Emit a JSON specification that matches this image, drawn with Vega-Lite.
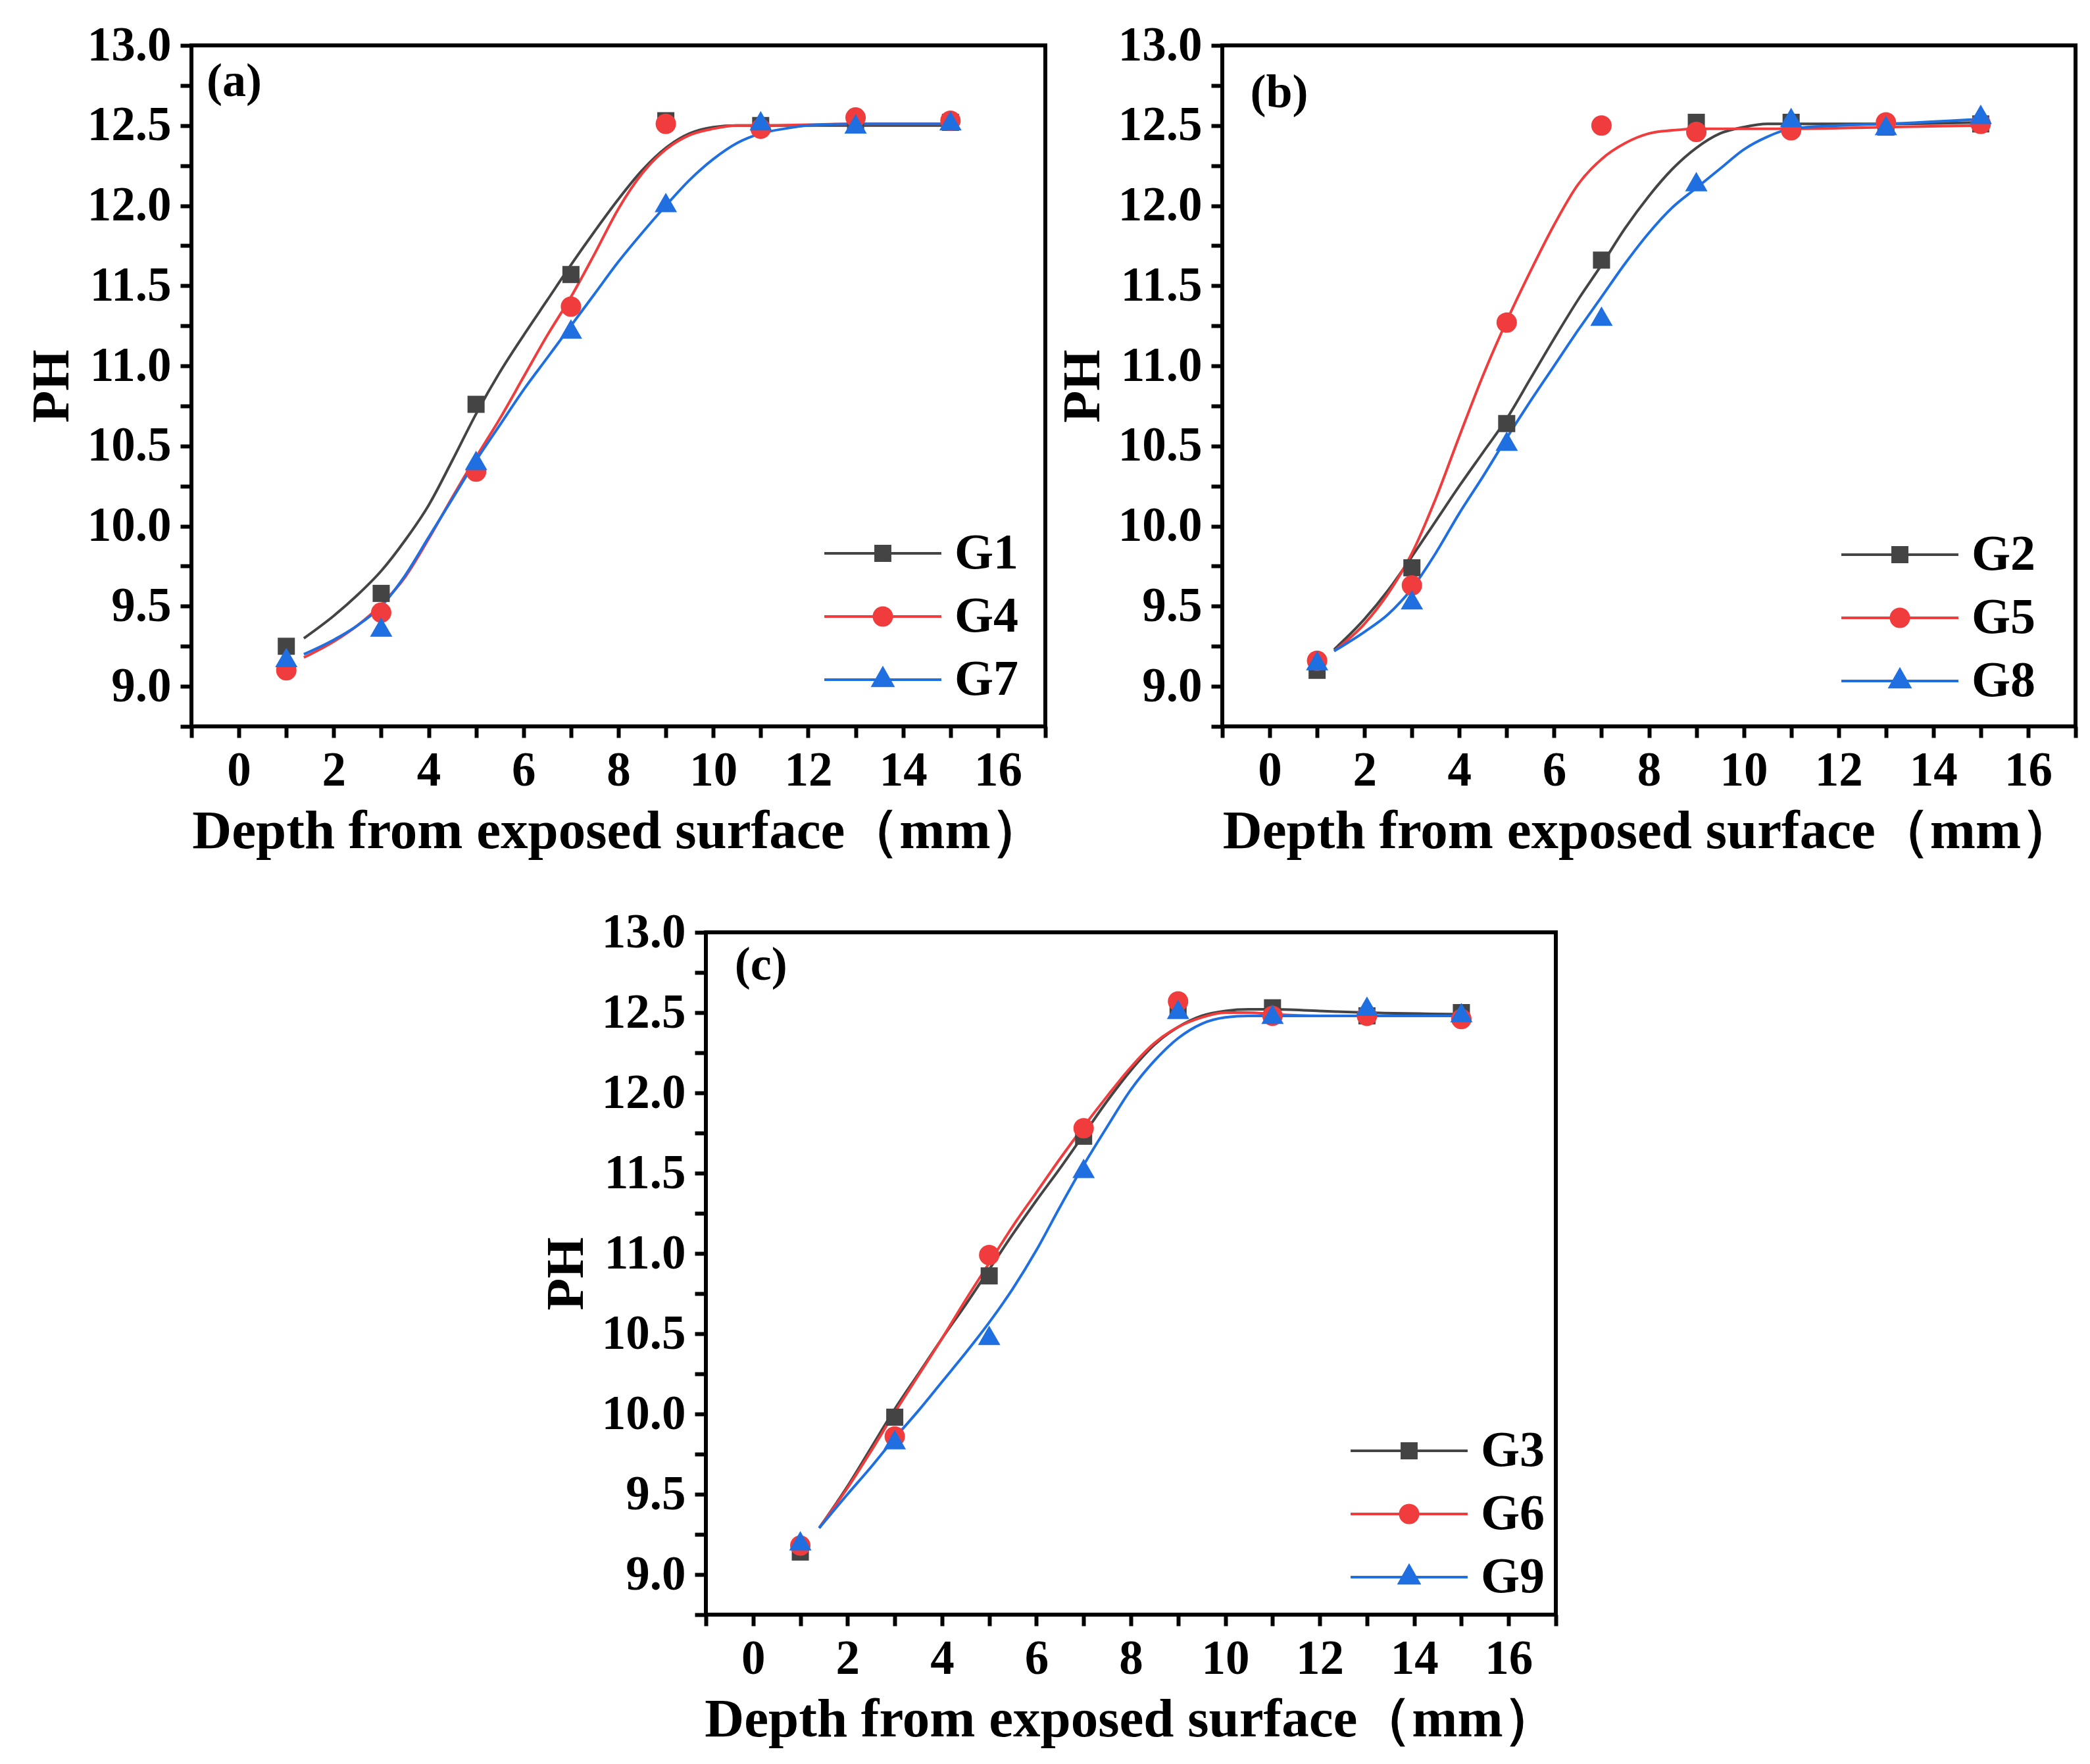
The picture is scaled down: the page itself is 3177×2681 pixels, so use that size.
{
  "$schema": "https://vega.github.io/schema/vega-lite/v6.json",
  "background": "white",
  "padding": {"left": 36, "top": 30, "right": 0, "bottom": 0},
  "config": {
    "view": {"stroke": null},
    "font": "Liberation Serif",
    "axis": {
      "labelFont": "Liberation Serif", "labelFontWeight": "bold", "labelFontSize": 73, "labelColor": "black",
      "titleFont": "Liberation Serif", "titleFontWeight": "bold", "titleFontSize": 80, "titleColor": "black",
      "grid": false, "domain": false, "tickColor": "black", "tickWidth": 6, "tickSize": 17,
      "labelPadding": 14, "titlePadding": 14, "labelOverlap": false, "labelFlush": false
    },
    "axisX": {"titleFontSize": 83},
    "axisY": {"titlePadding": 12},
    "legend": {"title": null, "padding": 0, "symbolSize": 900, "symbolStrokeWidth": 4, "labelOffset": 71, "rowPadding": 20,
      "labelFont": "Liberation Serif", "labelFontWeight": "bold", "labelFontSize": 76, "labelColor": "black"}
  },
  "datasets": {
    "a_pts": [
      {"s": "G1", "x": 1, "y": 9.25}, {"s": "G1", "x": 3, "y": 9.58}, {"s": "G1", "x": 5, "y": 10.76}, {"s": "G1", "x": 7, "y": 11.57},
      {"s": "G1", "x": 9, "y": 12.53}, {"s": "G1", "x": 11, "y": 12.5}, {"s": "G1", "x": 13, "y": 12.52}, {"s": "G1", "x": 15, "y": 12.52},
      {"s": "G4", "x": 1, "y": 9.1}, {"s": "G4", "x": 3, "y": 9.46}, {"s": "G4", "x": 5, "y": 10.34}, {"s": "G4", "x": 7, "y": 11.37},
      {"s": "G4", "x": 9, "y": 12.51}, {"s": "G4", "x": 11, "y": 12.48}, {"s": "G4", "x": 13, "y": 12.55}, {"s": "G4", "x": 15, "y": 12.53},
      {"s": "G7", "x": 1, "y": 9.18}, {"s": "G7", "x": 3, "y": 9.37}, {"s": "G7", "x": 5, "y": 10.41}, {"s": "G7", "x": 7, "y": 11.23},
      {"s": "G7", "x": 9, "y": 12.02}, {"s": "G7", "x": 11, "y": 12.53}, {"s": "G7", "x": 13, "y": 12.51}, {"s": "G7", "x": 15, "y": 12.53}
    ],
    "a_fit": [
      {"s": "G1", "x": 1.37, "y": 9.3}, {"s": "G1", "x": 2, "y": 9.44}, {"s": "G1", "x": 2.5, "y": 9.57}, {"s": "G1", "x": 3, "y": 9.72},
      {"s": "G1", "x": 3.5, "y": 9.91}, {"s": "G1", "x": 4, "y": 10.13}, {"s": "G1", "x": 4.5, "y": 10.41}, {"s": "G1", "x": 5, "y": 10.7},
      {"s": "G1", "x": 5.5, "y": 10.96}, {"s": "G1", "x": 6, "y": 11.19}, {"s": "G1", "x": 6.5, "y": 11.41}, {"s": "G1", "x": 7, "y": 11.63},
      {"s": "G1", "x": 7.5, "y": 11.84}, {"s": "G1", "x": 8, "y": 12.04}, {"s": "G1", "x": 8.5, "y": 12.22}, {"s": "G1", "x": 9, "y": 12.36},
      {"s": "G1", "x": 9.5, "y": 12.45}, {"s": "G1", "x": 10, "y": 12.49}, {"s": "G1", "x": 10.5, "y": 12.5}, {"s": "G1", "x": 11, "y": 12.5},
      {"s": "G1", "x": 13, "y": 12.5}, {"s": "G1", "x": 15, "y": 12.5},
      {"s": "G4", "x": 1.37, "y": 9.18}, {"s": "G4", "x": 2, "y": 9.28}, {"s": "G4", "x": 2.5, "y": 9.38}, {"s": "G4", "x": 3, "y": 9.51},
      {"s": "G4", "x": 3.5, "y": 9.68}, {"s": "G4", "x": 4, "y": 9.92}, {"s": "G4", "x": 4.5, "y": 10.18}, {"s": "G4", "x": 5, "y": 10.43},
      {"s": "G4", "x": 5.5, "y": 10.67}, {"s": "G4", "x": 6, "y": 10.93}, {"s": "G4", "x": 6.5, "y": 11.19}, {"s": "G4", "x": 7, "y": 11.43},
      {"s": "G4", "x": 7.5, "y": 11.7}, {"s": "G4", "x": 8, "y": 11.98}, {"s": "G4", "x": 8.5, "y": 12.2}, {"s": "G4", "x": 9, "y": 12.35},
      {"s": "G4", "x": 9.5, "y": 12.44}, {"s": "G4", "x": 10, "y": 12.48}, {"s": "G4", "x": 10.5, "y": 12.5}, {"s": "G4", "x": 11, "y": 12.5},
      {"s": "G4", "x": 13, "y": 12.51}, {"s": "G4", "x": 15, "y": 12.51},
      {"s": "G7", "x": 1.37, "y": 9.2}, {"s": "G7", "x": 2, "y": 9.29}, {"s": "G7", "x": 2.5, "y": 9.38}, {"s": "G7", "x": 3, "y": 9.5},
      {"s": "G7", "x": 3.5, "y": 9.69}, {"s": "G7", "x": 4, "y": 9.93}, {"s": "G7", "x": 4.5, "y": 10.17}, {"s": "G7", "x": 5, "y": 10.41},
      {"s": "G7", "x": 5.5, "y": 10.63}, {"s": "G7", "x": 6, "y": 10.85}, {"s": "G7", "x": 6.5, "y": 11.05}, {"s": "G7", "x": 7, "y": 11.25},
      {"s": "G7", "x": 7.5, "y": 11.45}, {"s": "G7", "x": 8, "y": 11.65}, {"s": "G7", "x": 8.5, "y": 11.83}, {"s": "G7", "x": 9, "y": 12.0},
      {"s": "G7", "x": 9.5, "y": 12.16}, {"s": "G7", "x": 10, "y": 12.29}, {"s": "G7", "x": 10.5, "y": 12.39}, {"s": "G7", "x": 11, "y": 12.45},
      {"s": "G7", "x": 11.5, "y": 12.48}, {"s": "G7", "x": 12, "y": 12.5}, {"s": "G7", "x": 13, "y": 12.51}, {"s": "G7", "x": 15, "y": 12.51}
    ],
    "b_pts": [
      {"s": "G2", "x": 1, "y": 9.1}, {"s": "G2", "x": 3, "y": 9.74}, {"s": "G2", "x": 5, "y": 10.64}, {"s": "G2", "x": 7, "y": 11.66},
      {"s": "G2", "x": 9, "y": 12.52}, {"s": "G2", "x": 11, "y": 12.52}, {"s": "G2", "x": 13, "y": 12.49}, {"s": "G2", "x": 15, "y": 12.51},
      {"s": "G5", "x": 1, "y": 9.16}, {"s": "G5", "x": 3, "y": 9.63}, {"s": "G5", "x": 5, "y": 11.27}, {"s": "G5", "x": 7, "y": 12.5},
      {"s": "G5", "x": 9, "y": 12.46}, {"s": "G5", "x": 11, "y": 12.47}, {"s": "G5", "x": 13, "y": 12.52}, {"s": "G5", "x": 15, "y": 12.51},
      {"s": "G8", "x": 1, "y": 9.16}, {"s": "G8", "x": 3, "y": 9.54}, {"s": "G8", "x": 5, "y": 10.53}, {"s": "G8", "x": 7, "y": 11.31},
      {"s": "G8", "x": 9, "y": 12.15}, {"s": "G8", "x": 11, "y": 12.55}, {"s": "G8", "x": 13, "y": 12.5}, {"s": "G8", "x": 15, "y": 12.57}
    ],
    "b_fit": [
      {"s": "G2", "x": 1.36, "y": 9.23}, {"s": "G2", "x": 2, "y": 9.42}, {"s": "G2", "x": 2.5, "y": 9.6}, {"s": "G2", "x": 3, "y": 9.81},
      {"s": "G2", "x": 3.5, "y": 10.03}, {"s": "G2", "x": 4, "y": 10.25}, {"s": "G2", "x": 4.5, "y": 10.46}, {"s": "G2", "x": 5, "y": 10.67},
      {"s": "G2", "x": 5.5, "y": 10.92}, {"s": "G2", "x": 6, "y": 11.17}, {"s": "G2", "x": 6.5, "y": 11.41}, {"s": "G2", "x": 7, "y": 11.63},
      {"s": "G2", "x": 7.5, "y": 11.86}, {"s": "G2", "x": 8, "y": 12.06}, {"s": "G2", "x": 8.5, "y": 12.23}, {"s": "G2", "x": 9, "y": 12.36},
      {"s": "G2", "x": 9.5, "y": 12.45}, {"s": "G2", "x": 10, "y": 12.49}, {"s": "G2", "x": 10.5, "y": 12.51}, {"s": "G2", "x": 11, "y": 12.51},
      {"s": "G2", "x": 13, "y": 12.51}, {"s": "G2", "x": 15, "y": 12.52},
      {"s": "G5", "x": 1.36, "y": 9.22}, {"s": "G5", "x": 2, "y": 9.39}, {"s": "G5", "x": 2.5, "y": 9.58}, {"s": "G5", "x": 3, "y": 9.83},
      {"s": "G5", "x": 3.5, "y": 10.17}, {"s": "G5", "x": 4, "y": 10.56}, {"s": "G5", "x": 4.5, "y": 10.94}, {"s": "G5", "x": 5, "y": 11.28},
      {"s": "G5", "x": 5.5, "y": 11.59}, {"s": "G5", "x": 6, "y": 11.88}, {"s": "G5", "x": 6.5, "y": 12.13}, {"s": "G5", "x": 7, "y": 12.29},
      {"s": "G5", "x": 7.5, "y": 12.39}, {"s": "G5", "x": 8, "y": 12.45}, {"s": "G5", "x": 8.5, "y": 12.47}, {"s": "G5", "x": 9, "y": 12.48},
      {"s": "G5", "x": 11, "y": 12.48}, {"s": "G5", "x": 13, "y": 12.49}, {"s": "G5", "x": 15, "y": 12.5},
      {"s": "G8", "x": 1.36, "y": 9.22}, {"s": "G8", "x": 2, "y": 9.34}, {"s": "G8", "x": 2.5, "y": 9.45}, {"s": "G8", "x": 3, "y": 9.61},
      {"s": "G8", "x": 3.5, "y": 9.83}, {"s": "G8", "x": 4, "y": 10.08}, {"s": "G8", "x": 4.5, "y": 10.31}, {"s": "G8", "x": 5, "y": 10.55},
      {"s": "G8", "x": 5.5, "y": 10.78}, {"s": "G8", "x": 6, "y": 11.0}, {"s": "G8", "x": 6.5, "y": 11.22}, {"s": "G8", "x": 7, "y": 11.43},
      {"s": "G8", "x": 7.5, "y": 11.64}, {"s": "G8", "x": 8, "y": 11.83}, {"s": "G8", "x": 8.5, "y": 11.99}, {"s": "G8", "x": 9, "y": 12.11},
      {"s": "G8", "x": 9.5, "y": 12.23}, {"s": "G8", "x": 10, "y": 12.35}, {"s": "G8", "x": 10.5, "y": 12.43}, {"s": "G8", "x": 11, "y": 12.48},
      {"s": "G8", "x": 12, "y": 12.5}, {"s": "G8", "x": 13, "y": 12.51}, {"s": "G8", "x": 15, "y": 12.54}
    ],
    "c_pts": [
      {"s": "G3", "x": 1, "y": 9.14}, {"s": "G3", "x": 3, "y": 9.98}, {"s": "G3", "x": 5, "y": 10.86}, {"s": "G3", "x": 7, "y": 11.73},
      {"s": "G3", "x": 9, "y": 12.53}, {"s": "G3", "x": 11, "y": 12.53}, {"s": "G3", "x": 13, "y": 12.48}, {"s": "G3", "x": 15, "y": 12.5},
      {"s": "G6", "x": 1, "y": 9.18}, {"s": "G6", "x": 3, "y": 9.86}, {"s": "G6", "x": 5, "y": 10.99}, {"s": "G6", "x": 7, "y": 11.78},
      {"s": "G6", "x": 9, "y": 12.57}, {"s": "G6", "x": 11, "y": 12.48}, {"s": "G6", "x": 13, "y": 12.48}, {"s": "G6", "x": 15, "y": 12.46},
      {"s": "G9", "x": 1, "y": 9.21}, {"s": "G9", "x": 3, "y": 9.84}, {"s": "G9", "x": 5, "y": 10.49}, {"s": "G9", "x": 7, "y": 11.53},
      {"s": "G9", "x": 9, "y": 12.52}, {"s": "G9", "x": 11, "y": 12.49}, {"s": "G9", "x": 13, "y": 12.54}, {"s": "G9", "x": 15, "y": 12.5}
    ],
    "c_fit": [
      {"s": "G3", "x": 1.4, "y": 9.29}, {"s": "G3", "x": 2, "y": 9.55}, {"s": "G3", "x": 2.5, "y": 9.79}, {"s": "G3", "x": 3, "y": 10.03},
      {"s": "G3", "x": 3.5, "y": 10.25}, {"s": "G3", "x": 4, "y": 10.47}, {"s": "G3", "x": 4.5, "y": 10.68}, {"s": "G3", "x": 5, "y": 10.9},
      {"s": "G3", "x": 5.5, "y": 11.12}, {"s": "G3", "x": 6, "y": 11.33}, {"s": "G3", "x": 6.5, "y": 11.53}, {"s": "G3", "x": 7, "y": 11.74},
      {"s": "G3", "x": 7.5, "y": 11.95}, {"s": "G3", "x": 8, "y": 12.14}, {"s": "G3", "x": 8.5, "y": 12.3}, {"s": "G3", "x": 9, "y": 12.41},
      {"s": "G3", "x": 9.5, "y": 12.48}, {"s": "G3", "x": 10, "y": 12.51}, {"s": "G3", "x": 10.5, "y": 12.52}, {"s": "G3", "x": 11, "y": 12.52},
      {"s": "G3", "x": 12, "y": 12.51}, {"s": "G3", "x": 13, "y": 12.5}, {"s": "G3", "x": 15, "y": 12.49},
      {"s": "G6", "x": 1.4, "y": 9.29}, {"s": "G6", "x": 2, "y": 9.54}, {"s": "G6", "x": 2.5, "y": 9.77}, {"s": "G6", "x": 3, "y": 10.01},
      {"s": "G6", "x": 3.5, "y": 10.24}, {"s": "G6", "x": 4, "y": 10.47}, {"s": "G6", "x": 4.5, "y": 10.71}, {"s": "G6", "x": 5, "y": 10.94},
      {"s": "G6", "x": 5.5, "y": 11.17}, {"s": "G6", "x": 6, "y": 11.38}, {"s": "G6", "x": 6.5, "y": 11.59}, {"s": "G6", "x": 7, "y": 11.79},
      {"s": "G6", "x": 7.5, "y": 11.98}, {"s": "G6", "x": 8, "y": 12.16}, {"s": "G6", "x": 8.5, "y": 12.31}, {"s": "G6", "x": 9, "y": 12.41},
      {"s": "G6", "x": 9.5, "y": 12.47}, {"s": "G6", "x": 10, "y": 12.5}, {"s": "G6", "x": 10.5, "y": 12.5}, {"s": "G6", "x": 11, "y": 12.49},
      {"s": "G6", "x": 12, "y": 12.48}, {"s": "G6", "x": 15, "y": 12.48},
      {"s": "G9", "x": 1.4, "y": 9.29}, {"s": "G9", "x": 2, "y": 9.5}, {"s": "G9", "x": 2.5, "y": 9.67}, {"s": "G9", "x": 3, "y": 9.85},
      {"s": "G9", "x": 3.5, "y": 10.02}, {"s": "G9", "x": 4, "y": 10.2}, {"s": "G9", "x": 4.5, "y": 10.38}, {"s": "G9", "x": 5, "y": 10.57},
      {"s": "G9", "x": 5.5, "y": 10.78}, {"s": "G9", "x": 6, "y": 11.02}, {"s": "G9", "x": 6.5, "y": 11.29}, {"s": "G9", "x": 7, "y": 11.55},
      {"s": "G9", "x": 7.5, "y": 11.79}, {"s": "G9", "x": 8, "y": 12.02}, {"s": "G9", "x": 8.5, "y": 12.2}, {"s": "G9", "x": 9, "y": 12.34},
      {"s": "G9", "x": 9.5, "y": 12.43}, {"s": "G9", "x": 10, "y": 12.47}, {"s": "G9", "x": 10.5, "y": 12.48}, {"s": "G9", "x": 11, "y": 12.48},
      {"s": "G9", "x": 15, "y": 12.48}
    ]
  },
  "spacing": 70,
  "resolve": {
    "scale": {"color": "independent", "stroke": "independent", "shape": "independent"},
    "legend": {"color": "independent", "stroke": "independent", "shape": "independent"}
  },
  "vconcat": [
    {
      "resolve": {
        "scale": {"color": "independent", "stroke": "independent", "shape": "independent"},
        "legend": {"color": "independent", "stroke": "independent", "shape": "independent"}
      },
      "hconcat": [
        {
          "width": 1298, "height": 1035,
          "view": {"stroke": "black", "strokeWidth": 6},
          "resolve": {"legend": {"color": "independent", "stroke": "independent", "shape": "independent"}},
          "encoding": {
            "x": {"field": "x", "type": "quantitative", "scale": {"domain": [-1, 17], "nice": false},
              "axis": {"title": "Depth from exposed surface（mm）", "values": [-1, 0, 1, 2, 3, 4, 5, 6, 7, 8, 9, 10, 11, 12, 13, 14, 15, 16, 17],
                "labelExpr": "datum.value % 2 === 0 ? datum.label : ''",
                "encode": {"ticks": {"update": {"y2": {"signal": "datum.value % 2 === 0 ? 17 : 9"}}}}}},
            "y": {"field": "y", "type": "quantitative", "scale": {"domain": [8.75, 13], "nice": false, "zero": false},
              "axis": {"title": "PH", "values": [8.75, 9, 9.25, 9.5, 9.75, 10, 10.25, 10.5, 10.75, 11, 11.25, 11.5, 11.75, 12, 12.25, 12.5, 12.75, 13],
                "labelExpr": "(datum.value * 2) % 1 === 0 ? format(datum.value, '.1f') : ''",
                "encode": {"ticks": {"update": {"x2": {"signal": "(datum.value * 2) % 1 === 0 ? -17 : -9"}}}}}}
          },
          "layer": [
            {
              "data": {"name": "a_fit"},
              "mark": {"type": "line", "interpolate": "monotone", "strokeWidth": 4},
              "encoding": {"color": {"field": "s", "type": "nominal", "scale": {"domain": ["G1", "G4", "G7"], "range": ["#444444", "#f03c3c", "#1f6fe0"]}, "legend": null}}
            },
            {
              "data": {"name": "a_pts"}, "transform": [{"filter": "datum.s === 'G1'"}],
              "mark": {"type": "point", "filled": true, "opacity": 1, "shape": "square", "size": 676},
              "encoding": {"color": {"field": "s", "type": "nominal", "legend": null}}
            },
            {
              "data": {"name": "a_pts"}, "transform": [{"filter": "datum.s === 'G4'"}],
              "mark": {"type": "point", "filled": true, "opacity": 1, "shape": "circle", "size": 961},
              "encoding": {"color": {"field": "s", "type": "nominal", "legend": null}}
            },
            {
              "data": {"name": "a_pts"}, "transform": [{"filter": "datum.s === 'G7'"}],
              "mark": {"type": "point", "filled": true, "opacity": 1, "shape": "triangle-up", "size": 1156},
              "encoding": {"color": {"field": "s", "type": "nominal", "legend": null}}
            },
            {
              "data": {"name": "a_pts"}, "transform": [{"filter": "false"}],
              "mark": {"type": "point", "filled": true, "opacity": 1},
              "encoding": {
                "color": {"field": "s", "type": "nominal", "scale": {"domain": ["G1", "G4", "G7"], "range": ["#444444", "#f03c3c", "#1f6fe0"]},
                  "legend": {"orient": "none", "legendX": 1013, "legendY": 734, "labelFontWeight": "bold", "encode": {"labels": {"update": {"fontWeight": {"value": "bold"}}}}}},
                "stroke": {"field": "s", "type": "nominal", "scale": {"domain": ["G1", "G4", "G7"], "range": ["#444444", "#f03c3c", "#1f6fe0"]},
                  "legend": {"orient": "none", "legendX": 1013, "legendY": 734, "labelFontWeight": "bold", "encode": {"labels": {"update": {"fontWeight": {"value": "bold"}}}}}},
                "shape": {"field": "s", "type": "nominal", "scale": {"domain": ["G1", "G4", "G7"], "range": ["M-5.93,0H5.93M-0.73,-0.73H0.73V0.73H-0.73Z", "M-5.93,0H5.93M-0.9,0A0.9,0.9,0,1,1,0.9,0A0.9,0.9,0,1,1,-0.9,0Z", "M-5.93,0H5.93M0,-1.15L1,0.62H-1Z"]},
                  "legend": {"orient": "none", "legendX": 1013, "legendY": 734, "labelFontWeight": "bold", "encode": {"labels": {"update": {"fontWeight": {"value": "bold"}}}}}}
              }
            },
            {
              "data": {"values": [{"x": -0.68, "y": 12.685, "t": "(a)"}]},
              "mark": {"type": "text", "align": "left", "baseline": "alphabetic", "font": "Liberation Serif", "fontWeight": "bold", "fontSize": 72, "color": "black"},
              "encoding": {"text": {"field": "t"}}
            }
          ]
        },
        {
          "width": 1297, "height": 1035,
          "view": {"stroke": "black", "strokeWidth": 6},
          "resolve": {"legend": {"color": "independent", "stroke": "independent", "shape": "independent"}},
          "encoding": {
            "x": {"field": "x", "type": "quantitative", "scale": {"domain": [-1, 17], "nice": false},
              "axis": {"title": "Depth from exposed surface（mm）", "values": [-1, 0, 1, 2, 3, 4, 5, 6, 7, 8, 9, 10, 11, 12, 13, 14, 15, 16, 17],
                "labelExpr": "datum.value % 2 === 0 ? datum.label : ''",
                "encode": {"ticks": {"update": {"y2": {"signal": "datum.value % 2 === 0 ? 17 : 9"}}}}}},
            "y": {"field": "y", "type": "quantitative", "scale": {"domain": [8.75, 13], "nice": false, "zero": false},
              "axis": {"title": "PH", "values": [8.75, 9, 9.25, 9.5, 9.75, 10, 10.25, 10.5, 10.75, 11, 11.25, 11.5, 11.75, 12, 12.25, 12.5, 12.75, 13],
                "labelExpr": "(datum.value * 2) % 1 === 0 ? format(datum.value, '.1f') : ''",
                "encode": {"ticks": {"update": {"x2": {"signal": "(datum.value * 2) % 1 === 0 ? -17 : -9"}}}}}}
          },
          "layer": [
            {
              "data": {"name": "b_fit"},
              "mark": {"type": "line", "interpolate": "monotone", "strokeWidth": 4},
              "encoding": {"color": {"field": "s", "type": "nominal", "scale": {"domain": ["G2", "G5", "G8"], "range": ["#444444", "#f03c3c", "#1f6fe0"]}, "legend": null}}
            },
            {
              "data": {"name": "b_pts"}, "transform": [{"filter": "datum.s === 'G2'"}],
              "mark": {"type": "point", "filled": true, "opacity": 1, "shape": "square", "size": 676},
              "encoding": {"color": {"field": "s", "type": "nominal", "legend": null}}
            },
            {
              "data": {"name": "b_pts"}, "transform": [{"filter": "datum.s === 'G5'"}],
              "mark": {"type": "point", "filled": true, "opacity": 1, "shape": "circle", "size": 961},
              "encoding": {"color": {"field": "s", "type": "nominal", "legend": null}}
            },
            {
              "data": {"name": "b_pts"}, "transform": [{"filter": "datum.s === 'G8'"}],
              "mark": {"type": "point", "filled": true, "opacity": 1, "shape": "triangle-up", "size": 1156},
              "encoding": {"color": {"field": "s", "type": "nominal", "legend": null}}
            },
            {
              "data": {"name": "b_pts"}, "transform": [{"filter": "false"}],
              "mark": {"type": "point", "filled": true, "opacity": 1},
              "encoding": {
                "color": {"field": "s", "type": "nominal", "scale": {"domain": ["G2", "G5", "G8"], "range": ["#444444", "#f03c3c", "#1f6fe0"]},
                  "legend": {"orient": "none", "legendX": 992, "legendY": 736, "labelFontWeight": "bold", "encode": {"labels": {"update": {"fontWeight": {"value": "bold"}}}}}},
                "stroke": {"field": "s", "type": "nominal", "scale": {"domain": ["G2", "G5", "G8"], "range": ["#444444", "#f03c3c", "#1f6fe0"]},
                  "legend": {"orient": "none", "legendX": 992, "legendY": 736, "labelFontWeight": "bold", "encode": {"labels": {"update": {"fontWeight": {"value": "bold"}}}}}},
                "shape": {"field": "s", "type": "nominal", "scale": {"domain": ["G2", "G5", "G8"], "range": ["M-5.93,0H5.93M-0.73,-0.73H0.73V0.73H-0.73Z", "M-5.93,0H5.93M-0.9,0A0.9,0.9,0,1,1,0.9,0A0.9,0.9,0,1,1,-0.9,0Z", "M-5.93,0H5.93M0,-1.15L1,0.62H-1Z"]},
                  "legend": {"orient": "none", "legendX": 992, "legendY": 736, "labelFontWeight": "bold", "encode": {"labels": {"update": {"fontWeight": {"value": "bold"}}}}}}
              }
            },
            {
              "data": {"values": [{"x": -0.41, "y": 12.615, "t": "(b)"}]},
              "mark": {"type": "text", "align": "left", "baseline": "alphabetic", "font": "Liberation Serif", "fontWeight": "bold", "fontSize": 72, "color": "black"},
              "encoding": {"text": {"field": "t"}}
            }
          ]
        }
      ],
      "spacing": 8
    },
    {
      "resolve": {
        "scale": {"color": "independent", "stroke": "independent", "shape": "independent"},
        "legend": {"color": "independent", "stroke": "independent", "shape": "independent"}
      },
      "hconcat": [
        {"width": 517, "height": 10, "data": {"values": []}, "mark": {"type": "point", "opacity": 0}},
        {
          "width": 1292, "height": 1037,
          "view": {"stroke": "black", "strokeWidth": 6},
          "resolve": {"legend": {"color": "independent", "stroke": "independent", "shape": "independent"}},
          "encoding": {
            "x": {"field": "x", "type": "quantitative", "scale": {"domain": [-1, 17], "nice": false},
              "axis": {"title": "Depth from exposed surface（mm）", "values": [-1, 0, 1, 2, 3, 4, 5, 6, 7, 8, 9, 10, 11, 12, 13, 14, 15, 16, 17],
                "labelExpr": "datum.value % 2 === 0 ? datum.label : ''",
                "encode": {"ticks": {"update": {"y2": {"signal": "datum.value % 2 === 0 ? 17 : 9"}}}}}},
            "y": {"field": "y", "type": "quantitative", "scale": {"domain": [8.75, 13], "nice": false, "zero": false},
              "axis": {"title": "PH", "values": [8.75, 9, 9.25, 9.5, 9.75, 10, 10.25, 10.5, 10.75, 11, 11.25, 11.5, 11.75, 12, 12.25, 12.5, 12.75, 13],
                "labelExpr": "(datum.value * 2) % 1 === 0 ? format(datum.value, '.1f') : ''",
                "encode": {"ticks": {"update": {"x2": {"signal": "(datum.value * 2) % 1 === 0 ? -17 : -9"}}}}}}
          },
          "layer": [
            {
              "data": {"name": "c_fit"},
              "mark": {"type": "line", "interpolate": "monotone", "strokeWidth": 4},
              "encoding": {"color": {"field": "s", "type": "nominal", "scale": {"domain": ["G3", "G6", "G9"], "range": ["#444444", "#f03c3c", "#1f6fe0"]}, "legend": null}}
            },
            {
              "data": {"name": "c_pts"}, "transform": [{"filter": "datum.s === 'G3'"}],
              "mark": {"type": "point", "filled": true, "opacity": 1, "shape": "square", "size": 676},
              "encoding": {"color": {"field": "s", "type": "nominal", "legend": null}}
            },
            {
              "data": {"name": "c_pts"}, "transform": [{"filter": "datum.s === 'G6'"}],
              "mark": {"type": "point", "filled": true, "opacity": 1, "shape": "circle", "size": 961},
              "encoding": {"color": {"field": "s", "type": "nominal", "legend": null}}
            },
            {
              "data": {"name": "c_pts"}, "transform": [{"filter": "datum.s === 'G9'"}],
              "mark": {"type": "point", "filled": true, "opacity": 1, "shape": "triangle-up", "size": 1156},
              "encoding": {"color": {"field": "s", "type": "nominal", "legend": null}}
            },
            {
              "data": {"name": "c_pts"}, "transform": [{"filter": "false"}],
              "mark": {"type": "point", "filled": true, "opacity": 1},
              "encoding": {
                "color": {"field": "s", "type": "nominal", "scale": {"domain": ["G3", "G6", "G9"], "range": ["#444444", "#f03c3c", "#1f6fe0"]},
                  "legend": {"orient": "none", "legendX": 1031, "legendY": 750, "labelFontWeight": "bold", "encode": {"labels": {"update": {"fontWeight": {"value": "bold"}}}}}},
                "stroke": {"field": "s", "type": "nominal", "scale": {"domain": ["G3", "G6", "G9"], "range": ["#444444", "#f03c3c", "#1f6fe0"]},
                  "legend": {"orient": "none", "legendX": 1031, "legendY": 750, "labelFontWeight": "bold", "encode": {"labels": {"update": {"fontWeight": {"value": "bold"}}}}}},
                "shape": {"field": "s", "type": "nominal", "scale": {"domain": ["G3", "G6", "G9"], "range": ["M-5.93,0H5.93M-0.73,-0.73H0.73V0.73H-0.73Z", "M-5.93,0H5.93M-0.9,0A0.9,0.9,0,1,1,0.9,0A0.9,0.9,0,1,1,-0.9,0Z", "M-5.93,0H5.93M0,-1.15L1,0.62H-1Z"]},
                  "legend": {"orient": "none", "legendX": 1031, "legendY": 750, "labelFontWeight": "bold", "encode": {"labels": {"update": {"fontWeight": {"value": "bold"}}}}}}
              }
            },
            {
              "data": {"values": [{"x": -0.39, "y": 12.705, "t": "(c)"}]},
              "mark": {"type": "text", "align": "left", "baseline": "alphabetic", "font": "Liberation Serif", "fontWeight": "bold", "fontSize": 72, "color": "black"},
              "encoding": {"text": {"field": "t"}}
            }
          ]
        }
      ],
      "spacing": 10
    }
  ]
}
